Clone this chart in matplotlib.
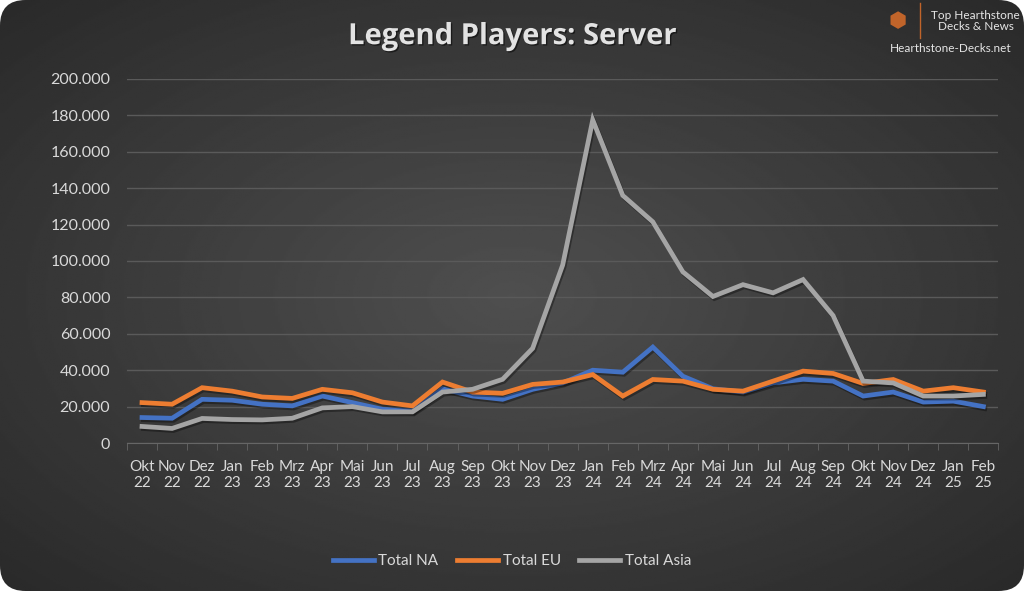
import numpy as np
import matplotlib
matplotlib.use("Agg")
import matplotlib.pyplot as plt
import matplotlib.patheffects as pe
from matplotlib.patches import FancyBboxPatch
from matplotlib.ticker import FuncFormatter, MultipleLocator

# Data
months = ["Okt\n22", "Nov\n22", "Dez\n22", "Jan\n23", "Feb\n23", "Mrz\n23", "Apr\n23", "Mai\n23",
          "Jun\n23", "Jul\n23", "Aug\n23", "Sep\n23", "Okt\n23", "Nov\n23", "Dez\n23", "Jan\n24",
          "Feb\n24", "Mrz\n24", "Apr\n24", "Mai\n24", "Jun\n24", "Jul\n24", "Aug\n24", "Sep\n24",
          "Okt\n24", "Nov\n24", "Dez\n24", "Jan\n25", "Feb\n25"]
total_na = [14000, 13600, 24000, 23500, 21300, 20400, 25800, 22200, 18500, 17600, 29800, 25800,
            24000, 29500, 33000, 40000, 38900, 52700, 36700, 29800, 28000, 33000, 35000, 34000,
            25800, 28000, 22500, 23000, 20000]
total_eu = [22200, 21300, 30400, 28500, 25300, 24500, 29500, 27600, 22500, 20400, 33500, 28000,
            27300, 32200, 33500, 37600, 25800, 34900, 34000, 29500, 28500, 34000, 39500, 38200,
            32700, 34900, 28500, 30400, 28000]
total_asia = [9100, 8000, 13500, 12900, 12700, 13600, 19300, 20000, 17100, 17100, 28000, 29500,
              35000, 52000, 97800, 177500, 136000, 121500, 94000, 80500, 87000, 82500, 89800, 70000,
              34000, 33000, 25800, 25800, 26700]

series = [("Total NA", total_na, "#4472C4"),
          ("Total EU", total_eu, "#ED7D31"),
          ("Total Asia", total_asia, "#A5A5A5")]

plt.rcParams['font.family'] = ['Lato', 'DejaVu Sans']

fig = plt.figure(figsize=(10.24, 5.91), dpi=100)
fig.patch.set_facecolor("white")

# background: rounded dark panel with radial gradient
bg = fig.add_axes([0, 0, 1, 1])
bg.set_xlim(0, 1)
bg.set_ylim(0, 1)
bg.axis("off")
yy, xx = np.mgrid[0:1:300j, 0:1:500j]
r = np.sqrt(((xx - 0.5) / 0.72) ** 2 + ((yy - 0.5) / 0.72) ** 2)
shade = 0.16 + 0.15 * np.clip(1 - r, 0, 1)
img = bg.imshow(shade, extent=[0, 1, 0, 1], origin="lower", cmap="gray",
                vmin=0, vmax=1, aspect="auto", zorder=0)
panel = FancyBboxPatch((0.0, 0.0), 1.0, 1.0, boxstyle="round,pad=0,rounding_size=0.025",
                       transform=bg.transAxes, facecolor="none", edgecolor="none",
                       mutation_aspect=1024 / 591)
bg.add_patch(panel)
img.set_clip_path(panel)

ax = fig.add_axes([0.124, 0.2504, 0.851, 0.616])
ax.set_facecolor("none")
x = np.arange(len(months))
for name, vals, col in series:
    ax.plot(x, vals, color=col, lw=3.4, label=name, solid_joinstyle="miter",
            path_effects=[pe.SimpleLineShadow(offset=(1, -1.5), shadow_color="black", alpha=0.35),
                          pe.Normal()])

ax.set_xlim(-0.5, len(months) - 0.5)
ax.set_ylim(0, 200000)
ax.yaxis.set_major_locator(MultipleLocator(20000))
ax.yaxis.set_major_formatter(FuncFormatter(lambda v, p: f"{int(v):,}".replace(",", ".")))
ax.grid(axis="y", color="#5a5a5a", lw=1)
ax.set_axisbelow(True)
ax.set_xticks(x)
ax.set_xticklabels(months)
ax.set_xticks(np.arange(-0.5, len(months)), minor=True)
ax.tick_params(axis="x", which="major", length=0, pad=12, colors="#d9d9d9", labelsize=11)
ax.tick_params(axis="x", which="minor", length=5, color="#666666")
ax.tick_params(axis="y", length=0, pad=12, colors="#d9d9d9", labelsize=11.5)
for s in ["top", "right", "left"]:
    ax.spines[s].set_visible(False)
ax.spines["bottom"].set_color("#666666")

leg = fig.legend(loc="center", bbox_to_anchor=(0.5, 0.05), ncol=3, frameon=False,
                 fontsize=11, handlelength=2.7, columnspacing=1.2, handletextpad=0.3)
for t in leg.get_texts():
    t.set_color("#d9d9d9")
for h in leg.get_lines():
    h.set_path_effects([])

fig.text(0.5, 0.938, "Legend Players: Server", ha="center", va="center", fontsize=21,
         fontweight="bold", color="#e3e3e3", family=["Open Sans", "DejaVu Sans"],
         path_effects=[pe.withSimplePatchShadow(offset=(1, -1), shadow_rgbFace="black", alpha=0.5)])

# logo block
fig.text(0.877, 0.965, "\u2B22", ha="center", va="center", fontsize=15, color="#C0642A",
         family=["DejaVu Sans"])
fig.add_artist(plt.Line2D([0.898, 0.898], [0.935, 0.995], color="#C0642A", lw=1,
                          transform=fig.transFigure))
fig.text(0.953, 0.965, "Top Hearthstone\nDecks & News", ha="center", va="center",
         fontsize=8.5, color="#e6e6e6", linespacing=1.0)
fig.text(0.928, 0.918, "Hearthstone-Decks.net", ha="center", va="center", fontsize=8.5,
         color="#e6e6e6")

fig.savefig("out.png", dpi=100, facecolor="white")
